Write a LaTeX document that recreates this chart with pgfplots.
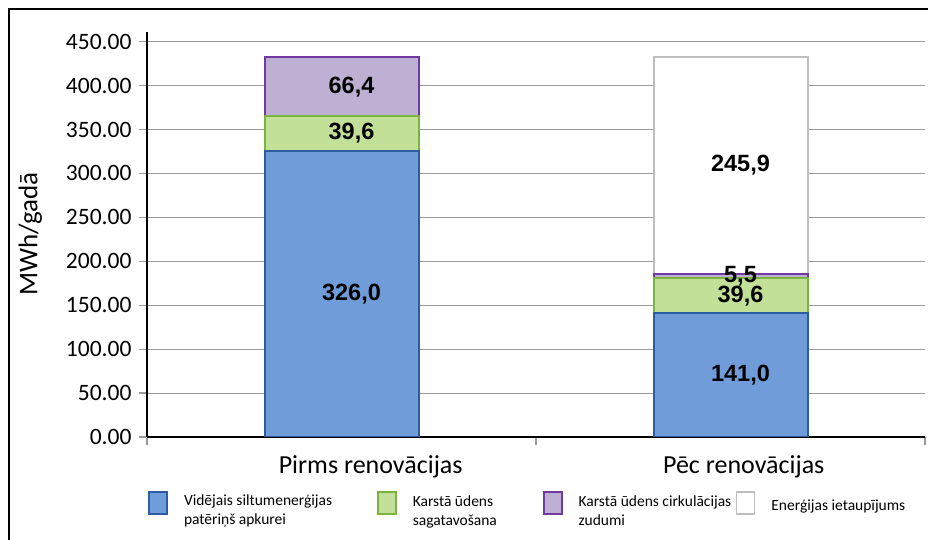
\documentclass[border=0pt]{standalone}
\usepackage{pgfplots}
\pgfplotsset{compat=1.18}
\usepackage{pgfplotstable}
\usepackage{fontspec}
\setmainfont{Carlito}
\newfontfamily\labfont{Liberation Sans}
\definecolor{blueF}{HTML}{709DD9}
\definecolor{blueB}{HTML}{2C5DA0}
\definecolor{greenF}{HTML}{C3E098}
\definecolor{greenB}{HTML}{7AB43E}
\definecolor{purpF}{HTML}{BEB0D2}
\definecolor{purpB}{HTML}{703AA0}
\definecolor{grayB}{HTML}{BEBEBE}
\definecolor{gridc}{HTML}{9A9A9A}

\pgfplotstableread{
x a b c d
0 326.0 39.6 66.4 0.0
1 141.0 39.6 5.5 245.9
}\data

\tikzset{lab/.style={anchor=center, xshift=10pt, text=black, font=\labfont\bfseries\fontsize{23.5}{28}\selectfont}}
\pgfplotsset{
  legsq/.style={legend image code/.code={\draw[#1, line width=1.8pt] (0pt,-8pt) rectangle (18pt,14pt);}},
  labs/.style={point meta=explicit,
    nodes near coords={\pgfmathprintnumber[fixed,fixed zerofill,precision=1,use comma,assume math mode=true]{\pgfplotspointmeta}},
    every node near coord/.style={lab}},
  basegeom/.style={
    at={(147pt,103pt)}, anchor=south west,
    scale only axis, width=778pt, height=405pt,
    ybar stacked, bar width=154pt,
    xmin=-0.5, xmax=1.5, ymin=0, ymax=461,
  },
}

\begin{document}
\begin{tikzpicture}[x=1pt,y=1pt]
\path[use as bounding box] (0,0) rectangle (928,540);
\draw[line width=1.6pt] (9,-10) -- (9,531) -- (940,531);
\begin{axis}[
  basegeom,
  ytick={0,50,...,450},
  xtick={-0.5,0.5,1.5}, xticklabels={,,},
  extra x ticks={0.075,1.034},
  extra x tick labels={Pirms renovācijas, Pēc renovācijas},
  extra x tick style={major tick length=0pt, tick label style={font=\fontsize{26}{30}\selectfont, yshift=-15pt}},
  yticklabel style={font=\fontsize{23.5}{28}\selectfont, xshift=-4pt, /pgf/number format/.cd, fixed, fixed zerofill, precision=2, assume math mode=true},
  axis x line*=bottom, axis y line*=left,
  axis line style={line width=1.6pt, black},
  tick align=outside, major tick length=8pt,
  tick style={gridc, line width=1.2pt},
  ymajorgrids, grid style={gridc, line width=1.1pt},
  ylabel={MWh/gadā},
  ylabel style={font=\fontsize{27}{32}\selectfont, at={(axis description cs:-0.150,0.501)}, anchor=center},
  legend columns=4, legend cell align=left,
  legend style={at={(axis description cs:0.0013,-0.165)}, anchor=west, draw=none, fill=none, inner sep=0pt,
    font=\fontsize{15.5}{19}\selectfont, nodes={inner sep=0pt},
    /tikz/every odd column/.append style={column sep=16pt}},
]
\addlegendimage{legsq, fill=blueF, draw=blueB, line width=2pt}
\addlegendentry{\parbox[c]{193pt}{\raggedright Vidējais siltumenerģijas\\patēriņš apkurei}}
\addlegendimage{legsq, fill=greenF, draw=greenB, line width=2pt}
\addlegendentry{\parbox[c]{130pt}{\raggedright Karstā ūdens\\sagatavošana}}
\addlegendimage{legsq, fill=purpF, draw=purpB, line width=2pt}
\addlegendentry{\parbox[c]{157pt}{\raggedright Karstā ūdens cirkulācijas\\zudumi}}
\addlegendimage{legsq, fill=white, draw=grayB, line width=2pt}
\addlegendentry{Enerģijas ietaupījums}
\addplot[draw=none, fill=none, forget plot, skip coords between index={0}{1}] table[x=x, y=a] \data;
\addplot[draw=none, fill=none, forget plot, skip coords between index={0}{1}] table[x=x, y=b] \data;
\addplot[draw=none, fill=none, forget plot, skip coords between index={0}{1}] table[x=x, y=c] \data;
\addplot[fill=white, draw=grayB, line width=2pt, forget plot, labs, skip coords between index={0}{1}]
  table[x=x, y=d, meta=d] \data;
\end{axis}
\begin{axis}[basegeom, hide axis]
\addplot[fill=blueF, draw=blueB, line width=2pt, labs] table[x=x, y=a, meta=a] \data;
\addplot[fill=greenF, draw=greenB, line width=2pt, labs] table[x=x, y=b, meta=b] \data;
\addplot[fill=purpF, draw=purpB, line width=2pt, labs] table[x=x, y=c, meta=c] \data;
\end{axis}
\end{tikzpicture}
\end{document}
